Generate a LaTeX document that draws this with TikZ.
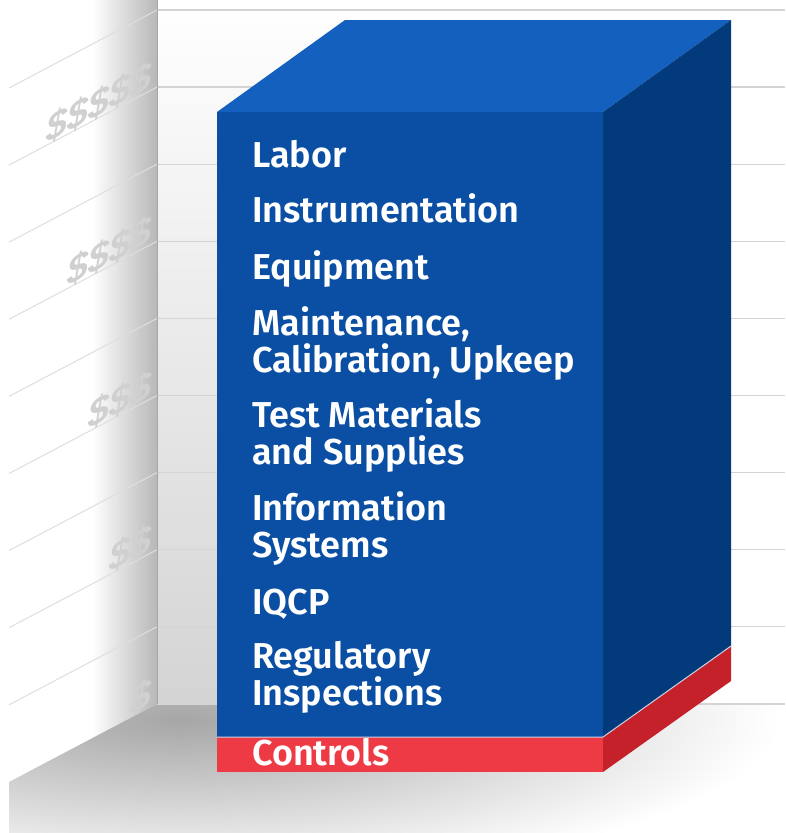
\documentclass[tikz,border=0pt]{standalone}
\usepackage{fontspec}
\setmainfont{Liberation Sans}
\newfontfamily\lblfont{Fira Sans SemiBold}
\definecolor{topblue}{HTML}{1360BF}
\definecolor{frontblue}{HTML}{0A4FA3}
\definecolor{sideblue}{HTML}{033A7C}
\definecolor{redfront}{HTML}{EE3A45}
\definecolor{redside}{HTML}{C5212A}
\definecolor{dolgray}{HTML}{D0D0D0}
\definecolor{floorgray}{HTML}{A6A6A6}
\definecolor{sepline}{HTML}{C9D3E6}
\begin{document}
\begin{tikzpicture}[x=1pt,y=-1pt,
  lbl/.style={text=white,font=\lblfont\fontsize{36}{37}\selectfont,inner sep=0pt,anchor=base west},
  dol/.style={text=dolgray,font=\bfseries\itshape\fontsize{38}{38}\selectfont,inner sep=0pt,anchor=base east,transform shape},
  bline/.style={draw=black!17,line width=1.3pt},
  sline/.style={draw=black!13,line width=1pt}]
\useasboundingbox (0,0) rectangle (785,833);
\fill[white] (0,0) rectangle (785,833);
% back wall shadow behind the box
\shade[top color=white,middle color=black!11,bottom color=black!17] (157,0) rectangle (350,704);
% left wall
\begin{scope}
\clip (9,0) -- (157,0) -- (157,704) -- (9,782) -- cycle;
\shade[left color=white,right color=black!28] (92,0) rectangle (157,790);
\end{scope}
% floor
\begin{scope}
\clip (9,782) -- (157,704) -- (785,704) -- (785,833) -- (9,833) -- cycle;
\shade[inner color=floorgray,outer color=white] (-420,560) rectangle (780,880);
\end{scope}
% grid lines
\foreach \k in {0,...,9}{
  \pgfmathsetmacro{\yy}{10+77.1*\k}
  \draw[bline] (157,\yy) -- (785,\yy);
}
\foreach \k in {0,...,8}{
  \pgfmathsetmacro{\yy}{10+77.1*\k}
  \draw[sline] (157,\yy) -- (9,\yy+78);
}
\draw[black!35,line width=0.8pt] (157,0) -- (157,704);
% dollar labels on the left wall
\begin{scope}[shift={(152,87.5)},yslant=0.527]
\node[dol] (d5) at (0,0) {\$\$\$\$\$};
\end{scope}
\begin{scope}[shift={(152,241.7)},yslant=0.527]
\node[dol] (d4) at (0,0) {\$\$\$\$};
\end{scope}
\begin{scope}[shift={(152,395.9)},yslant=0.527]
\node[dol] (d3) at (0,0) {\$\$\$};
\end{scope}
\begin{scope}[shift={(152,550.1)},yslant=0.527]
\node[dol] (d2) at (0,0) {\$\$};
\end{scope}
\begin{scope}[shift={(152,704.3)},yslant=0.527]
\node[dol] (d1) at (0,0) {\$};
\end{scope}
% the box
\fill[topblue] (217,112) -- (345,20) -- (731,20) -- (603,112) -- cycle;
\fill[frontblue] (217,112) rectangle (603,737);
\fill[sideblue] (603,112) -- (731,20) -- (731,646) -- (603,737) -- cycle;
\fill[redfront] (217,737) rectangle (603,772);
\fill[redside] (603,737) -- (731,646) -- (731,681) -- (603,772) -- cycle;
\draw[sepline,line width=1pt] (217,737) -- (603,737) -- (731,646);
% texts
\node[lbl] (t1) at (252,167) {Labor};
\node[lbl] (t2) at (252,222) {Instrumentation};
\node[lbl] (t3) at (252,279) {Equipment};
\node[lbl] (t4a) at (252,335) {Maintenance,};
\node[lbl] (t4b) at (252,372) {Calibration, Upkeep};
\node[lbl] (t5a) at (252,427) {Test Materials};
\node[lbl] (t5b) at (252,464) {and Supplies};
\node[lbl] (t6a) at (252,520) {Information};
\node[lbl] (t6b) at (252,557) {Systems};
\node[lbl] (t7) at (252,614) {IQCP};
\node[lbl] (t8a) at (252,668) {Regulatory};
\node[lbl] (t8b) at (252,705) {Inspections};
\node[lbl] (t9) at (252,765) {Controls};
\end{tikzpicture}
\end{document}
